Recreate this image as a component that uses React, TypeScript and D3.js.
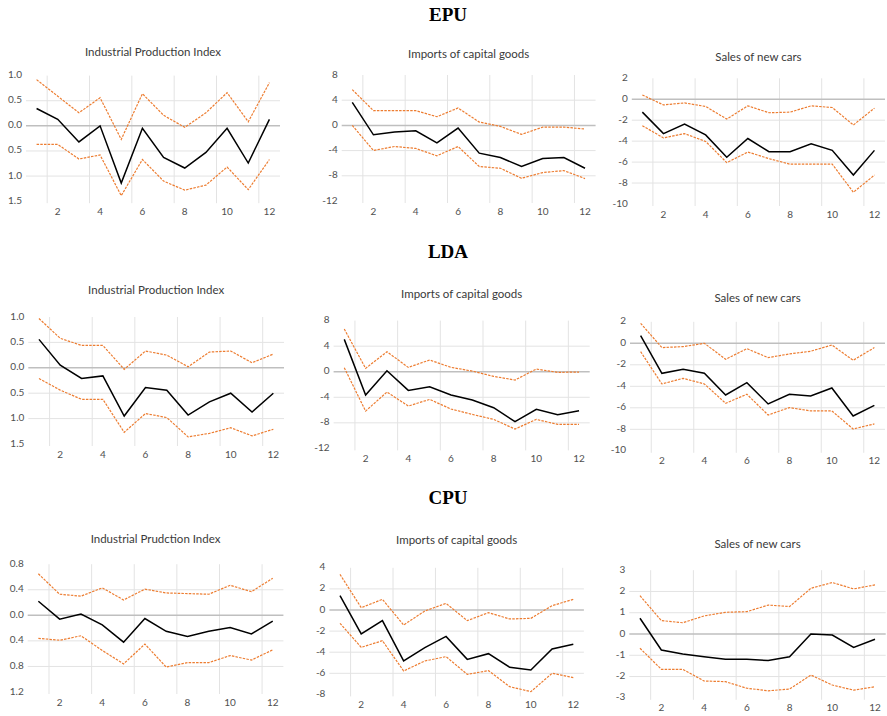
import React from "react";
import * as d3 from "d3";

const periods = [1, 2, 3, 4, 5, 6, 7, 8, 9, 10, 11, 12];
const xTickLabels = [2, 4, 6, 8, 10, 12];
const groupTitles = ["EPU", "LDA", "CPU"];
const panelTitles = [
  "Industrial Production Index", "Imports of capital goods", "Sales of new cars",
  "Industrial Production Index", "Imports of capital goods", "Sales of new cars",
  "Industrial Prudction Index", "Imports of capital goods", "Sales of new cars",
];

// y tick values and their printed labels (the source prints no minus sign on the IPI panels)
const ipiTickValues = [1.0, 0.5, 0.0, -0.5, -1.0, -1.5];
const ipiTickLabels = ["1.0", "0.5", "0.0", "0.5", "1.0", "1.5"];
const impTickValues = [8, 4, 0, -4, -8, -12];
const impTickLabels = ["8", "4", "0", "-4", "-8", "-12"];
const carTickValues = [2, 0, -2, -4, -6, -8, -10];
const carTickLabels = ["2", "0", "-2", "-4", "-6", "-8", "-10"];
const cpuIpiTickValues = [0.8, 0.4, 0.0, -0.4, -0.8, -1.2];
const cpuIpiTickLabels = ["0.8", "0.4", "0.0", "0.4", "0.8", "1.2"];
const cpuImpTickValues = [4, 2, 0, -2, -4, -6, -8];
const cpuImpTickLabels = ["4", "2", "0", "-2", "-4", "-6", "-8"];
const cpuCarTickValues = [3, 2, 1, 0, -1, -2, -3];
const cpuCarTickLabels = ["3", "2", "1", "0", "-1", "-2", "-3"];

// EPU
const epuIpiMid = [0.345, 0.13, -0.32, 0.0, -1.14, -0.05, -0.63, -0.84, -0.53, -0.05, -0.74, 0.13];
const epuIpiUp = [0.92, 0.59, 0.26, 0.56, -0.27, 0.64, 0.21, -0.03, 0.26, 0.66, 0.08, 0.86];
const epuIpiLo = [-0.37, -0.37, -0.66, -0.58, -1.39, -0.67, -1.10, -1.28, -1.18, -0.82, -1.27, -0.67];
const epuImpMid = [3.66, -1.49, -1.06, -0.85, -2.76, -0.42, -4.41, -5.1, -6.53, -5.26, -5.1, -6.8];
const epuImpUp = [5.68, 2.34, 2.34, 2.34, 1.38, 2.76, 0.53, -0.16, -1.43, -0.27, -0.27, -0.58];
const epuImpLo = [0.0, -3.98, -3.35, -3.66, -4.83, -3.35, -6.53, -6.8, -8.39, -7.49, -7.17, -8.44];
const epuCarMid = [-1.23, -3.28, -2.36, -3.4, -5.54, -3.75, -5.0, -5.0, -4.25, -4.88, -7.24, -4.88];
const epuCarUp = [0.41, -0.54, -0.35, -0.69, -1.89, -0.63, -1.29, -1.23, -0.63, -0.79, -2.46, -0.85];
const epuCarLo = [-2.52, -3.69, -3.28, -4.03, -6.05, -5.04, -5.67, -6.2, -6.2, -6.2, -8.88, -7.24];

// LDA
const ldaIpiMid = [0.56, 0.05, -0.21, -0.16, -0.95, -0.39, -0.44, -0.93, -0.67, -0.50, -0.87, -0.50];
const ldaIpiUp = [0.97, 0.58, 0.44, 0.44, -0.03, 0.33, 0.25, 0.02, 0.31, 0.33, 0.10, 0.27];
const ldaIpiLo = [-0.21, -0.44, -0.62, -0.62, -1.27, -0.90, -0.98, -1.36, -1.29, -1.18, -1.34, -1.21];
const ldaImpMid = [5.06, -3.65, 0.16, -2.92, -2.35, -3.65, -4.43, -5.63, -7.82, -5.89, -6.73, -6.10];
const ldaImpUp = [6.68, 0.52, 3.13, 0.68, 1.83, 0.68, 0.10, -0.73, -1.30, 0.42, -0.10, -0.05];
const ldaImpLo = [0.63, -6.16, -3.18, -5.37, -4.33, -5.84, -6.68, -7.46, -8.97, -7.46, -8.24, -8.24];
const ldaCarMid = [0.71, -2.79, -2.42, -2.79, -4.81, -3.66, -5.64, -4.74, -4.90, -4.16, -6.76, -5.77];
const ldaCarUp = [1.86, -0.40, -0.31, 0.0, -1.49, -0.50, -1.33, -0.99, -0.74, -0.16, -1.58, -0.40];
const ldaCarLo = [-0.78, -3.78, -3.26, -3.78, -5.58, -4.74, -6.67, -5.98, -6.29, -6.29, -7.97, -7.50];

// CPU
const cpuIpiMid = [0.22, -0.06, 0.02, -0.15, -0.42, -0.05, -0.25, -0.33, -0.25, -0.19, -0.29, -0.09];
const cpuIpiUp = [0.65, 0.33, 0.30, 0.43, 0.24, 0.41, 0.35, 0.34, 0.33, 0.47, 0.37, 0.58];
const cpuIpiLo = [-0.36, -0.39, -0.32, -0.55, -0.76, -0.45, -0.81, -0.74, -0.74, -0.63, -0.70, -0.54];
const cpuImpMid = [1.36, -2.27, -1.01, -4.83, -3.57, -2.50, -4.68, -4.14, -5.43, -5.69, -3.70, -3.25];
const cpuImpUp = [3.38, 0.22, 1.01, -1.42, -0.09, 0.63, -1.01, -0.25, -0.85, -0.79, 0.41, 1.01];
const cpuImpLo = [-1.26, -3.54, -2.91, -5.78, -4.83, -4.42, -6.10, -5.75, -7.27, -7.74, -6.00, -6.41];
const cpuCarMid = [0.74, -0.75, -0.94, -1.07, -1.19, -1.19, -1.25, -1.07, 0.0, -0.05, -0.63, -0.25];
const cpuCarUp = [1.80, 0.63, 0.53, 0.85, 1.02, 1.05, 1.36, 1.29, 2.15, 2.42, 2.12, 2.31];
const cpuCarLo = [-0.67, -1.66, -1.66, -2.21, -2.24, -2.55, -2.67, -2.59, -1.93, -2.40, -2.64, -2.48];

const panelSeries = [
  [epuIpiMid, epuIpiUp, epuIpiLo], [epuImpMid, epuImpUp, epuImpLo], [epuCarMid, epuCarUp, epuCarLo],
  [ldaIpiMid, ldaIpiUp, ldaIpiLo], [ldaImpMid, ldaImpUp, ldaImpLo], [ldaCarMid, ldaCarUp, ldaCarLo],
  [cpuIpiMid, cpuIpiUp, cpuIpiLo], [cpuImpMid, cpuImpUp, cpuImpLo], [cpuCarMid, cpuCarUp, cpuCarLo],
];
const panelTicks = [
  [ipiTickValues, ipiTickLabels], [impTickValues, impTickLabels], [carTickValues, carTickLabels],
  [ipiTickValues, ipiTickLabels], [impTickValues, impTickLabels], [carTickValues, carTickLabels],
  [cpuIpiTickValues, cpuIpiTickLabels], [cpuImpTickValues, cpuImpTickLabels], [cpuCarTickValues, cpuCarTickLabels],
];

// layout (pixels)
const layout = [
  { left: 26, right: 280, top: 75.6, bottom: 201.2, titleY: 53.5 },
  { left: 341.7, right: 595.6, top: 75, bottom: 201, titleY: 55 },
  { left: 631.8, right: 885, top: 78.3, bottom: 204, titleY: 58.3 },
  { left: 28.3, right: 284, top: 317, bottom: 444, titleY: 291 },
  { left: 333.6, right: 589.7, top: 320.6, bottom: 448.4, titleY: 295 },
  { left: 630, right: 885, top: 321.8, bottom: 450.8, titleY: 299 },
  { left: 27.7, right: 283.4, top: 564.2, bottom: 692, titleY: 540 },
  { left: 329.4, right: 583.9, top: 567.8, bottom: 694.4, titleY: 541 },
  { left: 629.3, right: 885.7, top: 570.2, bottom: 697.8, titleY: 545 },
];
const groupTitleY = [17, 254, 500];

const FONT = "Lato, 'Open Sans', sans-serif";
const ORANGE = "#ED7D31";

function Panel({ idx }: { idx: number }) {
  const L = layout[idx];
  const [tv, tl] = panelTicks[idx] as [number[], string[]];
  const series = panelSeries[idx];
  const x = d3.scalePoint<number>().domain(periods).range([L.left, L.right]).padding(0.5);
  const step = x.step();
  const y = d3.scaleLinear().domain([d3.min(tv)!, d3.max(tv)!]).range([L.bottom, L.top]);
  const line = d3
    .line<number>()
    .x((_, i) => x(periods[i])!)
    .y((d) => y(d));
  const vGrid = periods.filter((p) => p % 2 === 1).map((p) => x(p)! + step / 2);
  return (
    <g>
      <text
        x={(L.left + L.right) / 2}
        y={L.titleY}
        textAnchor="middle"
        dominantBaseline="middle"
        fontFamily={FONT}
        fontSize={11.5}
        fill="#3a3a3a"
      >
        {panelTitles[idx]}
      </text>
      {vGrid.map((gx, i) => (
        <line key={"v" + i} x1={gx} x2={gx} y1={L.top} y2={L.bottom + 2} stroke="#E3E3E3" strokeWidth={1} />
      ))}
      {tv.map((v, i) =>
        v === 0 || i === 0 || i === tv.length - 1 ? null : (
          <line key={"h" + i} x1={L.left} x2={L.right} y1={y(v)} y2={y(v)} stroke="#E3E3E3" strokeWidth={1} />
        )
      )}
      <line x1={L.left} x2={L.right} y1={y(0)} y2={y(0)} stroke="#BFBFBF" strokeWidth={1.5} />
      {tv.map((v, i) => (
        <text
          key={"yt" + i}
          x={L.left - 4}
          y={y(v)}
          textAnchor="end"
          dominantBaseline="middle"
          fontFamily={FONT}
          fontSize={10}
          fill="#505050"
        >
          {tl[i]}
        </text>
      ))}
      {xTickLabels.map((p) => (
        <text
          key={"xt" + p}
          x={x(p)!}
          y={L.bottom + 11}
          textAnchor="middle"
          dominantBaseline="middle"
          fontFamily={FONT}
          fontSize={10}
          fill="#505050"
        >
          {p}
        </text>
      ))}
      <path d={line(series[1])!} fill="none" stroke={ORANGE} strokeWidth={1.2} strokeDasharray="2.5,1.2" />
      <path d={line(series[2])!} fill="none" stroke={ORANGE} strokeWidth={1.2} strokeDasharray="2.5,1.2" />
      <path d={line(series[0])!} fill="none" stroke="#000" strokeWidth={1.5} />
    </g>
  );
}

export default function App() {
  return (
    <svg
      width={887}
      height={716}
      style={{ position: "absolute", left: 0, top: 0, background: "#fff" }}
    >
      <rect width={887} height={716} fill="#fff" />
      {groupTitles.map((t, i) => (
        <text
          key={t}
          x={448}
          y={groupTitleY[i]}
          textAnchor="middle"
          dominantBaseline="middle"
          fontFamily="'Liberation Serif', 'Times New Roman', serif"
          fontWeight="bold"
          fontSize={19}
          fill="#000"
        >
          {t}
        </text>
      ))}
      {panelTitles.map((_, i) => (
        <Panel key={i} idx={i} />
      ))}
    </svg>
  );
}
